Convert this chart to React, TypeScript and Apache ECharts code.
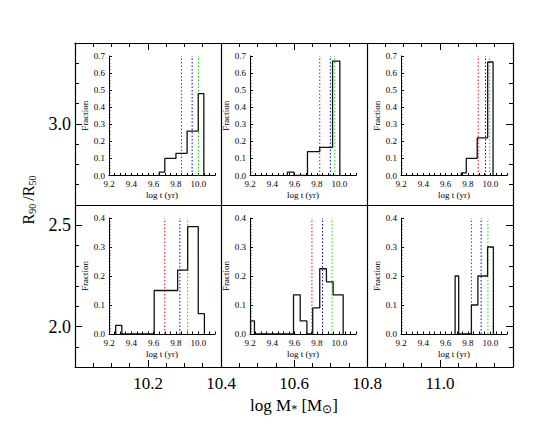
import React, { useEffect, useRef } from "react";
import * as echarts from "echarts";

// ---- outer axes ----
const massTicks = [10.2, 10.4, 10.6, 10.8, 11.0];
const ratioTicks = [2.0, 2.5, 3.0];
const panelDividersX = [10.4, 10.8];
const panelDividerY = 2.6;

// ---- inset histograms: bin edges (log t [yr]) and fractions ----
const edges1 = [9.65, 9.70, 9.80, 9.90, 10.0, 10.05];
const frac1 = [0.02, 0.10, 0.13, 0.26, 0.48];
const edges2 = [9.535, 9.595, 9.715, 9.825, 9.94, 10.005];
const frac2 = [0.02, 0.0, 0.14, 0.165, 0.67];
const edges3 = [9.74, 9.785, 9.883, 9.977, 10.025];
const frac3 = [0.015, 0.10, 0.22, 0.665];
const edges4 = [9.26, 9.315, 9.605, 9.815, 9.905, 10.0, 10.055];
const frac4 = [0.03, 0.0, 0.15, 0.22, 0.37, 0.07];
const edges5 = [9.205, 9.24, 9.59, 9.65, 9.71, 9.762, 9.825, 9.885, 9.945, 10.035];
const frac5 = [0.045, 0.0, 0.135, 0.045, 0.0, 0.09, 0.225, 0.18, 0.135];
const edges6 = [9.685, 9.717, 9.831, 9.889, 9.976, 10.028];
const frac6 = [0.2, 0.0, 0.1, 0.2, 0.3];

const panelEdges = [edges1, edges2, edges3, edges4, edges5, edges6];
const panelFracs = [frac1, frac2, frac3, frac4, frac5, frac6];

// vertical reference lines (log t)
const redLines = [9.85, 9.825, 9.892, 9.70, 9.755, 9.831];
const blueLines = [9.945, 9.92, 9.957, 9.835, 9.85, 9.918];
const greenLines = [10.002, 9.96, 9.995, 9.905, 9.935, 9.979];

const fractionMax = [0.7, 0.4];
const tLabels = [9.2, 9.4, 9.6, 9.8, 10.0];

const FONT = "'Liberation Serif', 'Times New Roman', serif";

function stepPoints(edges: number[], vals: number[]) {
  const pts: number[][] = [[edges[0], 0]];
  vals.forEach((v, i) => {
    pts.push([edges[i], v]);
    pts.push([edges[i + 1], v]);
  });
  pts.push([edges[edges.length - 1], 0]);
  return pts;
}

export default function App() {
  const ref = useRef<HTMLDivElement>(null);
  useEffect(() => {
    if (!ref.current) return;
    const chart = echarts.init(ref.current, undefined, { renderer: "svg" });

    const black = "#000";
    const fmt1 = (v: number) => v.toFixed(1);

    const tTicks: number[] = [];
    for (let k = 0; k <= 19; k++) tTicks.push(Math.round((9.2 + k * 0.05) * 1000) / 1000);
    const rTicks: number[] = [];
    for (let k = 0; k <= 16; k++) rTicks.push(Math.round((1.8 + k * 0.1) * 1000) / 1000);

    const grids: any[] = [
      { left: 75, top: 43, width: 438, height: 324, containLabel: false, outerBoundsMode: "none" },
    ];
    const insetLeft = [109, 250, 401];
    const insetTop = [56, 218];
    const insetHeight = [119.5, 116];
    const insetWidth = 106;
    for (let i = 0; i < 6; i++) {
      const row = Math.floor(i / 3);
      const col = i % 3;
      grids.push({
        left: insetLeft[col],
        top: insetTop[row],
        width: insetWidth,
        height: insetHeight[row],
        containLabel: false,
        outerBoundsMode: "none",
      });
    }

    const xAxes: any[] = [
      {
        gridIndex: 0,
        type: "value",
        position: "bottom",
        min: 10.0,
        max: 11.2,
        interval: 0.2,
        axisLine: { show: true, onZero: false, lineStyle: { color: black, width: 1.2 } },
        axisTick: { show: true, inside: true, length: 7, lineStyle: { color: black, width: 1 } },
        minorTick: { show: true, splitNumber: 4, length: 4, lineStyle: { color: black, width: 1 } },
        axisLabel: {
          customValues: massTicks,
          formatter: fmt1,
          fontSize: 17,
          fontFamily: FONT,
          color: black,
          margin: 8,
        },
        splitLine: { show: false },
        minorSplitLine: { show: false },
        name: "{r|log M}{s|*}{r| [M}{s|\u2299}{r|]}",
        nameLocation: "middle",
        nameGap: 15,
        nameTextStyle: {
          fontFamily: FONT,
          color: black,
          rich: {
            r: { fontSize: 17, fontFamily: FONT, color: black, lineHeight: 20 },
            s: { fontSize: 12, fontFamily: FONT, color: black, lineHeight: 12, verticalAlign: "bottom" },
          },
        },
      },
      {
        gridIndex: 0,
        type: "value",
        position: "top",
        min: 10.0,
        max: 11.2,
        interval: 0.2,
        axisLine: { show: true, onZero: false, lineStyle: { color: black, width: 1.2 } },
        axisTick: { show: true, inside: true, length: 7, lineStyle: { color: black, width: 1 } },
        minorTick: { show: true, splitNumber: 4, length: 4, lineStyle: { color: black, width: 1 } },
        axisLabel: { show: false },
        splitLine: { show: false },
      },
    ];

    const yAxes: any[] = [
      {
        gridIndex: 0,
        type: "value",
        position: "left",
        min: 1.8,
        max: 3.4,
        axisLine: { show: true, onZero: false, lineStyle: { color: black, width: 1.2 } },
        axisTick: { show: true, inside: true, length: 4, customValues: rTicks, lineStyle: { color: black, width: 1 } },
        axisLabel: {
          customValues: ratioTicks,
          formatter: fmt1,
          fontSize: 18,
          fontFamily: FONT,
          color: black,
          margin: 4,
        },
        splitLine: { show: false },
        name: "{r|R}{s|90}{r|\u2009/R}{s|50}",
        nameLocation: "middle",
        nameGap: 26,
        nameTextStyle: {
          fontFamily: FONT,
          color: black,
          padding: [0, 0, 0, 10],
          rich: {
            r: { fontSize: 16, fontFamily: FONT, color: black, lineHeight: 18 },
            s: { fontSize: 10, fontFamily: FONT, color: black, lineHeight: 11, verticalAlign: "bottom" },
          },
        },
      },
      {
        gridIndex: 0,
        type: "value",
        position: "left",
        min: 1.8,
        max: 3.4,
        axisLine: { show: false },
        axisTick: { show: true, inside: true, length: 7, customValues: ratioTicks, lineStyle: { color: black, width: 1 } },
        axisLabel: { show: false },
        splitLine: { show: false },
      },
      {
        gridIndex: 0,
        type: "value",
        position: "right",
        min: 1.8,
        max: 3.4,
        axisLine: { show: true, onZero: false, lineStyle: { color: black, width: 1.2 } },
        axisTick: { show: true, inside: true, length: 4, customValues: rTicks, lineStyle: { color: black, width: 1 } },
        axisLabel: { show: false },
        splitLine: { show: false },
      },
      {
        gridIndex: 0,
        type: "value",
        position: "right",
        min: 1.8,
        max: 3.4,
        axisLine: { show: false },
        axisTick: { show: true, inside: true, length: 7, customValues: ratioTicks, lineStyle: { color: black, width: 1 } },
        axisLabel: { show: false },
        splitLine: { show: false },
      },
    ];

    const series: any[] = [
      {
        type: "line",
        xAxisIndex: 0,
        yAxisIndex: 0,
        data: [],
        silent: true,
        markLine: {
          silent: true,
          symbol: "none",
          label: { show: false },
          lineStyle: { color: black, width: 1.2, type: "solid" },
          data: [
            ...panelDividersX.map((x) => ({ xAxis: x })),
            { yAxis: panelDividerY },
          ],
        },
      },
    ];

    const insetText = { fontSize: 9, fontFamily: FONT, color: black };
    const lineColors = ["#ff0000", "#0000ff", "#00e600"];

    for (let i = 0; i < 6; i++) {
      const row = Math.floor(i / 3);
      const fmax = fractionMax[row];
      xAxes.push({
        gridIndex: i + 1,
        type: "value",
        position: "bottom",
        min: 9.2,
        max: 10.15,
        interval: 0.2,
        axisLine: { show: true, onZero: false, lineStyle: { color: black, width: 1 } },
        axisTick: { show: true, inside: true, length: 2.5, customValues: tTicks, lineStyle: { color: black, width: 1 } },
        axisLabel: { customValues: tLabels, formatter: fmt1, margin: 4, ...insetText },
        splitLine: { show: false },
        name: "log t (yr)",
        nameLocation: "middle",
        nameGap: 15,
        nameTextStyle: insetText,
      });
      yAxes.push({
        gridIndex: i + 1,
        type: "value",
        position: "left",
        min: 0,
        max: fmax,
        interval: 0.1,
        axisLine: { show: true, onZero: false, lineStyle: { color: black, width: 1 } },
        axisTick: { show: true, inside: true, length: 3, lineStyle: { color: black, width: 1 } },
        minorTick: { show: true, splitNumber: row === 0 ? 5 : 10, length: 1.5, lineStyle: { color: black, width: 0.8 } },
        axisLabel: { formatter: fmt1, margin: 4, ...insetText },
        splitLine: { show: false },
        minorSplitLine: { show: false },
        name: "Fraction",
        nameLocation: "middle",
        nameGap: 18,
        nameTextStyle: insetText,
      });
      const refLines = [redLines[i], blueLines[i], greenLines[i]];
      refLines.forEach((x, j) => {
        series.push({
          type: "line",
          xAxisIndex: i + 2,
          yAxisIndex: i + 4,
          data: [
            [x, 0],
            [x, fmax],
          ],
          symbol: "none",
          silent: true,
          z: 1,
          color: lineColors[j],
          lineStyle: { color: lineColors[j], width: 1, type: [1.5, 2] },
        });
      });
      series.push({
        type: "line",
        xAxisIndex: i + 2,
        yAxisIndex: i + 4,
        data: stepPoints(panelEdges[i], panelFracs[i]),
        symbol: "none",
        silent: true,
        z: 2,
        color: "#111",
        lineStyle: { color: "#111", width: 1.3 },
      });
    }

    chart.setOption({
      animation: false,
      backgroundColor: "#fff",
      textStyle: { fontFamily: FONT },
      grid: grids,
      xAxis: xAxes,
      yAxis: yAxes,
      series,
    });
    return () => chart.dispose();
  }, []);
  return (
    <div
      ref={ref}
      style={{ position: "fixed", left: 0, top: 0, width: 540, height: 432, background: "#fff" }}
    />
  );
}
